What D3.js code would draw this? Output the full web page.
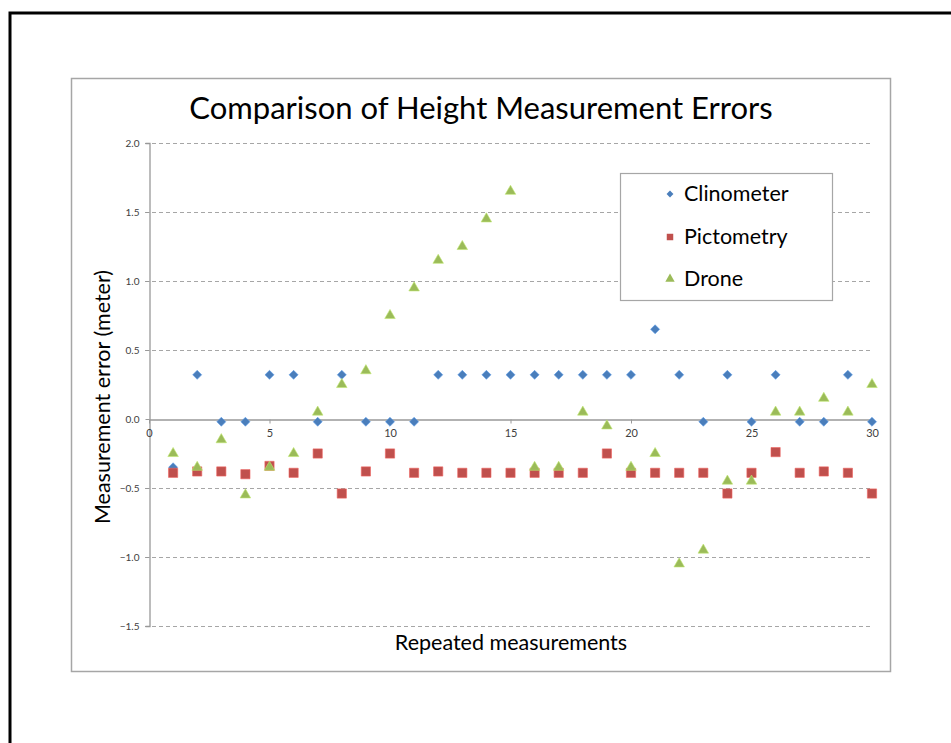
<!DOCTYPE html>
<html>
<head>
<meta charset="utf-8">
<script src="https://cdn.jsdelivr.net/npm/d3@7"></script>
<style>
  html, body { margin: 0; padding: 0; background: #fff; }
  svg { display: block; }
  text { font-family: Lato, "Open Sans", "Liberation Sans", sans-serif; }
</style>
</head>
<body>
<svg id="chart" width="951" height="743"></svg>
<script>
// ---- data ----
const measurements = d3.range(1, 31);
const clinometer = [-0.35, 0.32, -0.02, -0.02, 0.32, 0.32, -0.02, 0.32, -0.02, -0.02,
                    -0.02, 0.32, 0.32, 0.32, 0.32, 0.32, 0.32, 0.32, 0.32, 0.32,
                    0.65, 0.32, -0.02, 0.32, -0.02, 0.32, -0.02, -0.02, 0.32, -0.02];
const pictometry = [-0.39, -0.38, -0.38, -0.40, -0.34, -0.39, -0.25, -0.54, -0.38, -0.25,
                    -0.39, -0.38, -0.39, -0.39, -0.39, -0.39, -0.39, -0.39, -0.25, -0.39,
                    -0.39, -0.39, -0.39, -0.54, -0.39, -0.24, -0.39, -0.38, -0.39, -0.54];
const drone = [-0.25, -0.35, -0.15, -0.55, -0.35, -0.25, 0.05, 0.25, 0.35, 0.75,
               0.95, 1.15, 1.25, 1.45, 1.65, -0.35, -0.35, 0.05, -0.05, -0.35,
               -0.25, -1.05, -0.95, -0.45, -0.45, 0.05, 0.05, 0.15, 0.05, 0.25];
const seriesNames = ["Clinometer", "Pictometry", "Drone"];
const seriesColors = ["#4a7ebb", "#c0504d", "#9bbb59"];
const seriesShapes = [d3.symbolDiamond2, d3.symbolSquare, d3.symbolTriangle];
const xTicks = [0, 5, 10, 15, 20, 25, 30];
const yTicks = [-1.5, -1.0, -0.5, 0.0, 0.5, 1.0, 1.5, 2.0];
const titleText = "Comparison of Height Measurement Errors";
const xTitle = "Repeated measurements";
const yTitle = "Measurement error (meter)";

const svg = d3.select("#chart");

// outer page frame (black)
svg.append("path")
  .attr("d", "M10,760 L10,13 L960,13")
  .attr("fill", "none").attr("stroke", "#000").attr("stroke-width", 3);

// chart frame (gray)
svg.append("rect")
  .attr("x", 71.5).attr("y", 78.5).attr("width", 819).attr("height", 593)
  .attr("fill", "#fff").attr("stroke", "#a6a6a6").attr("stroke-width", 1.5);

const x = d3.scaleLinear().domain([0, 30]).range([149, 872]);
const y = d3.scaleLinear().domain([-1.5, 2.0]).range([626, 143]);

// gridlines
svg.append("g").selectAll("line")
  .data(yTicks.filter(d => d !== 0))
  .join("line")
  .attr("x1", x(0) - 4).attr("x2", x(30))
  .attr("y1", d => Math.round(y(d)) + 0.5).attr("y2", d => Math.round(y(d)) + 0.5)
  .attr("stroke", "#a6a6a6").attr("stroke-width", 1).attr("stroke-dasharray", "4,3");

// y axis
const yAxis = svg.append("g")
  .attr("transform", `translate(${x(0) + 0.5},0)`)
  .call(d3.axisLeft(y).tickValues(yTicks).tickFormat(d3.format(".1f")).tickSize(4).tickPadding(6));
yAxis.select(".domain").attr("stroke", "#999").attr("stroke-width", 1.3);
yAxis.selectAll(".tick line").attr("stroke", "#999");
yAxis.selectAll(".tick text").attr("font-size", 10).attr("fill", "#404040")
  .attr("font-family", "Lato, 'Open Sans', sans-serif");

// x axis at y=0
const xAxis = svg.append("g")
  .attr("transform", `translate(0,${Math.round(y(0)) + 0.5})`)
  .call(d3.axisBottom(x).tickValues(xTicks).tickFormat(d3.format("d")).tickSize(4).tickPadding(6).tickSizeOuter(0));
xAxis.select(".domain").attr("stroke", "#999").attr("stroke-width", 1.3);
xAxis.selectAll(".tick line").attr("stroke", "#999");
xAxis.selectAll(".tick text").attr("font-size", 11).attr("fill", "#404040")
  .attr("font-family", "Lato, 'Open Sans', sans-serif");

// series
const allSeries = [clinometer, pictometry, drone];
const sizes = [52, 85, 48];
allSeries.forEach((vals, i) => {
  svg.append("g").selectAll("path")
    .data(vals.map((v, j) => ({ m: measurements[j], v })))
    .join("path")
    .attr("d", d3.symbol().type(seriesShapes[i]).size(sizes[i]))
    .attr("transform", d => `translate(${x(d.m)},${y(d.v)})`)
    .attr("fill", seriesColors[i])
    .attr("stroke", d3.color(seriesColors[i]).brighter(0.6))
    .attr("stroke-width", 0.6);
});

// title
svg.append("text")
  .attr("x", 481).attr("y", 119)
  .attr("text-anchor", "middle")
  .attr("font-size", 31).attr("fill", "#000")
  .text(titleText);

// axis titles
svg.append("text")
  .attr("x", 511).attr("y", 650)
  .attr("text-anchor", "middle")
  .attr("font-size", 21.5).attr("fill", "#000")
  .text(xTitle);

svg.append("text")
  .attr("transform", "translate(110,397) rotate(-90)")
  .attr("text-anchor", "middle")
  .attr("font-size", 21.5).attr("fill", "#000")
  .text(yTitle);

// legend
const legend = svg.append("g");
legend.append("rect")
  .attr("x", 620.5).attr("y", 173.5).attr("width", 212).attr("height", 127)
  .attr("fill", "#fff").attr("stroke", "#a6a6a6").attr("stroke-width", 1.2);
const legendY = [194, 237, 279];
seriesNames.forEach((name, i) => {
  legend.append("path")
    .attr("d", d3.symbol().type(seriesShapes[i]).size(i === 2 ? 38 : (i === 0 ? 30 : 42)))
    .attr("transform", `translate(670,${legendY[i]})`)
    .attr("fill", seriesColors[i]);
  legend.append("text")
    .attr("x", 684).attr("y", legendY[i] + 7)
    .attr("font-size", 21.5).attr("fill", "#000")
    .text(name);
});
</script>
</body>
</html>
